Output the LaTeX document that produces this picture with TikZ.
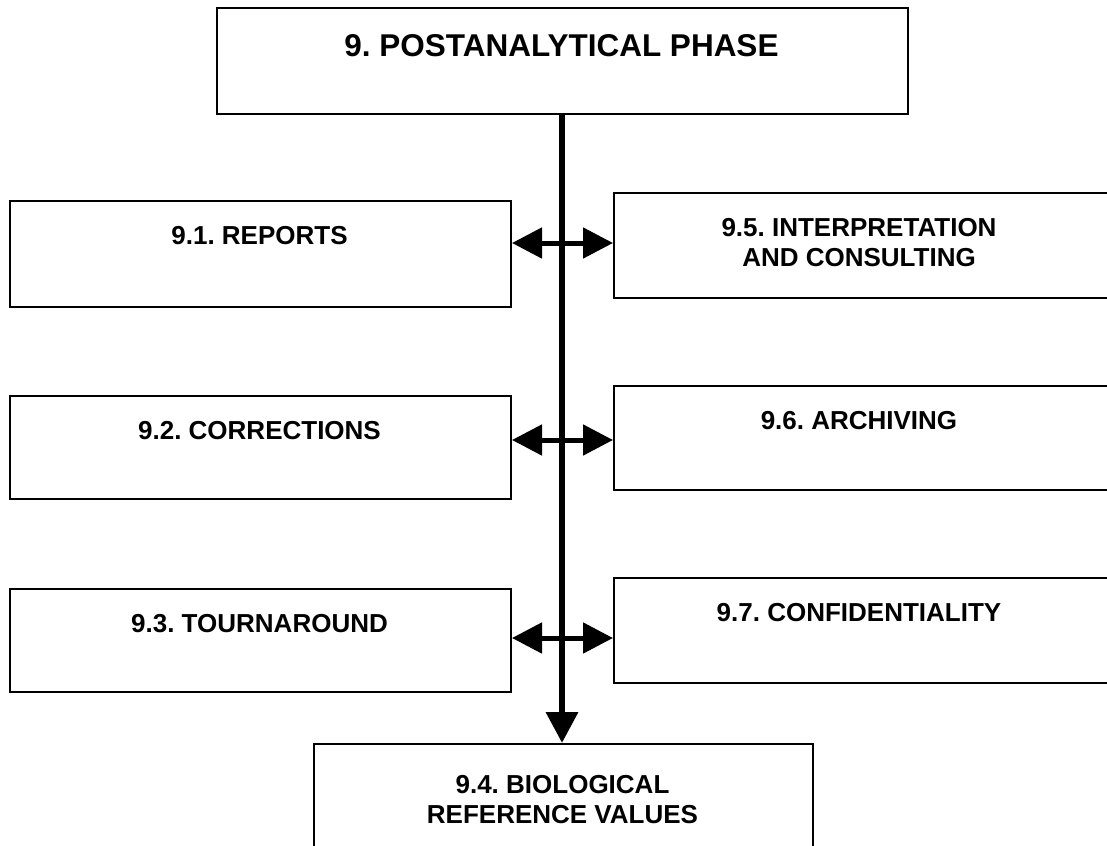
\documentclass[tikz,border=0pt]{standalone}
\usepackage{fontspec}
\setmainfont{Liberation Sans}
\frenchspacing
\usetikzlibrary{arrows.meta}
\tikzset{
  box/.style={draw=black, line width=2pt, fill=white, inner sep=0pt, anchor=north west},
  txt/.style={font=\bfseries\fontsize{26}{30}\selectfont, align=center, inner sep=0pt, anchor=base},
  ttl/.style={font=\bfseries\fontsize{31.5}{36}\selectfont, inner sep=0pt, anchor=base},
  vline/.style={line width=6.5pt, -{Triangle[length=31pt,width=31pt]}},
  hline/.style={line width=5pt, {Triangle[length=30pt,width=30pt]}-{Triangle[length=30pt,width=30pt]}}
}
\begin{document}
\frenchspacing
\begin{tikzpicture}[x=1pt,y=-1pt]
\useasboundingbox (0,0) rectangle (1107,845);
\clip (0,0) rectangle (1107,845);
% boxes
\node[box, minimum width=691pt, minimum height=106pt] (top) at (216,7) {};
\node[box, minimum width=501pt, minimum height=106pt] (b1) at (9,200) {};
\node[box, minimum width=501pt, minimum height=103pt] (b2) at (9,395) {};
\node[box, minimum width=501pt, minimum height=103pt] (b3) at (9,588) {};
\node[box, minimum width=501pt, minimum height=105pt] (b5) at (613,192) {};
\node[box, minimum width=501pt, minimum height=104pt] (b6) at (613,385) {};
\node[box, minimum width=501pt, minimum height=105pt] (b7) at (613,577) {};
\node[box, minimum width=499pt, minimum height=130pt] (b4) at (313,743) {};
% texts
\node[ttl] (ttop) at (561.5,57) {9. POSTANALYTICAL PHASE};
\node[txt] (t1) at (259.5,244) {9.1. REPORTS};
\node[txt] (t2) at (259.5,439) {9.2. CORRECTIONS};
\node[txt] (t3) at (259.5,632) {9.3. TOURNAROUND};
\node[txt] (t5) at (859,266) {9.5. INTERPRETATION\\AND CONSULTING};
\node[txt] (t6) at (859,429) {9.6. ARCHIVING};
\node[txt] (t7) at (859,621) {9.7. CONFIDENTIALITY};
\node[txt] (t4) at (562.5,823) {9.4. BIOLOGICAL\\REFERENCE VALUES};
% coordinates for arrows
\coordinate (y1) at (0,243);
\coordinate (y2) at (0,440);
\coordinate (y3) at (0,638);
% connectors
\draw[vline] (top.south -| 562,0) -- (b4.north -| 562,0);
\draw[hline] (b1.east |- y1) -- (b5.west |- y1);
\draw[hline] (b2.east |- y2) -- (b6.west |- y2);
\draw[hline] (b3.east |- y3) -- (b7.west |- y3);
\end{tikzpicture}
\end{document}
